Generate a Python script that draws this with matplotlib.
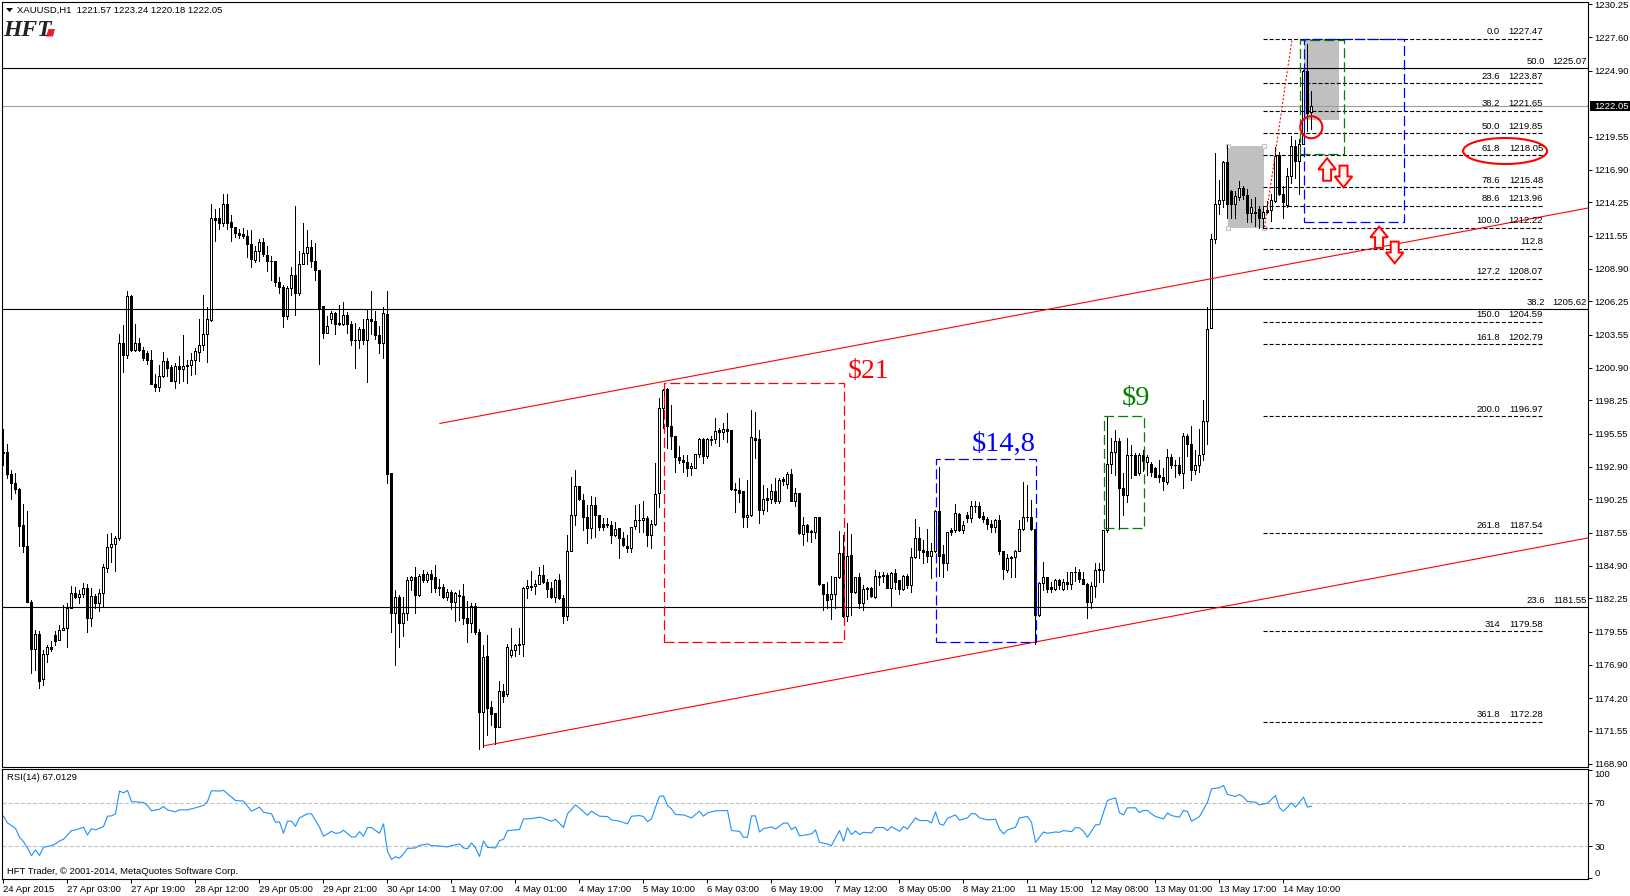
import numpy as np
import matplotlib
matplotlib.use("Agg")
import matplotlib.pyplot as plt
from matplotlib.patches import Rectangle, Ellipse, Polygon

W, H = 1631, 896
SANS = ["Liberation Sans", "DejaVu Sans"]
SERIF = ["Liberation Serif", "DejaVu Serif"]
plt.rcParams["font.family"] = SANS
plt.rcParams["lines.scale_dashes"] = False
LABEL = 6.8

# H1 candles
opens = [
    1194.1,1194.1,1192.3,1191.6,1191.1,1188.2,1186.5,1182.0,1178.2,1179.4,
    1175.7,1177.8,1178.3,1179.3,1178.9,1179.7,1179.9,1181.5,1182.7,1182.35,
    1182.6,1183.1,1180.7,1182.45,1181.85,1182.65,1184.7,1186.4,1186.65,1187.1,
    1202.9,1201.95,1206.7,1202.3,1202.85,1202.3,1202.1,1201.55,1199.6,1199.35,
    1200.25,1201.4,1200.95,1199.85,1201.0,1200.75,1201.1,1201.15,1201.5,1202.2,
    1202.75,1203.6,1204.75,1212.97,1212.95,1212.6,1214.1,1212.65,1212.25,1211.75,
    1211.7,1211.5,1210.85,1209.6,1210.3,1211.05,1210.0,1209.55,1209.5,1207.8,
    1207.45,1205.05,1207.3,1208.35,1206.9,1209.3,1210.15,1210.65,1209.55,1208.75,
    1205.85,1203.7,1204.8,1205.3,1204.5,1204.45,1205.15,1204.4,1203.15,1203.1,
    1204.0,1203.1,1204.8,1204.7,1203.5,1202.85,1205.2,1192.35,1181.1,1182.35,
    1180.3,1181.1,1183.75,1183.95,1182.5,1184.2,1183.7,1184.2,1183.95,1183.15,
    1183.15,1182.35,1182.75,1182.0,1182.55,1182.45,1180.7,1180.3,1181.65,1179.55,
    1173.1,1177.6,1173.5,1173.0,1171.85,1174.8,1174.5,1177.65,1178.05,1178.55,
    1178.55,1183.1,1183.25,1183.25,1183.4,1184.15,1183.55,1183.12,1182.4,1183.75,
    1182.3,1180.85,1186.1,1189.0,1191.3,1190.2,1188.8,1187.95,1189.8,1189.0,
    1188.25,1188.25,1188.2,1187.4,1187.95,1187.1,1186.5,1186.35,1188.1,1188.6,
    1188.55,1188.75,1187.4,1188.3,1190.75,1197.6,1199.2,1196.2,1195.35,1193.7,
    1193.45,1193.3,1192.75,1192.8,1193.95,1195.15,1193.75,1195.1,1195.15,1195.85,
    1195.7,1195.9,1195.85,1191.1,1191.0,1190.9,1188.8,1189.0,1195.25,1195.15,
    1189.4,1190.35,1190.25,1190.95,1190.15,1191.9,1191.5,1192.3,1190.1,1190.8,
    1187.45,1188.15,1187.7,1187.6,1188.85,1183.45,1182.6,1182.2,1182.6,1183.95,
    1185.9,1180.85,1185.75,1182.75,1183.95,1181.85,1183.1,1183.1,1182.4,1184.1,
    1184.15,1184.15,1183.1,1184.3,1183.7,1183.0,1184.1,1183.3,1185.6,1187.15,
    1186.15,1186.05,1185.7,1186.1,1189.35,1185.8,1185.15,1187.8,1187.8,1189.1,
    1187.8,1189.0,1188.75,1189.75,1189.75,1188.9,1188.65,1188.25,1188.0,1188.55,
    1186.1,1184.55,1185.55,1185.6,1186.1,1187.85,1188.85,1188.85,1187.85,1180.9,
    1183.5,1184.0,1183.15,1183.05,1183.7,1183.0,1183.6,1183.45,1184.4,1184.35,
    1183.85,1183.45,1182.0,1183.25,1184.65,1184.55,1187.75,1193.15,1194.05,1195.0,
    1191.2,1190.6,1193.85,1193.85,1192.4,1193.85,1193.25,1193.1,1192.75,1192.25,
    1192.1,1191.65,1193.65,1193.05,1193.05,1192.4,1195.4,1194.7,1192.65,1193.05,
    1193.9,1196.6,1204.1,1211.27,1214.1,1214.45,1217.55,1215.2,1214.15,1214.7,
    1215.4,1214.85,1213.4,1213.45,1213.75,1212.95,1213.6,1213.6,1214.4,1218.05,
    1214.95,1214.0,1216.4,1218.8,1217.6,1219.0,1224.9,1221.57,
]
highs = [
    1195.9,1194.75,1192.65,1192.4,1191.2,1189.9,1189.3,1182.1,1179.7,1179.6,
    1178.1,1178.5,1178.85,1179.6,1180.1,1181.7,1181.85,1183.25,1183.15,1182.95,
    1183.5,1183.4,1183.1,1182.6,1183.0,1185.0,1187.45,1187.5,1187.3,1203.65,
    1204.35,1207.1,1206.75,1204.45,1203.3,1202.55,1202.25,1202.3,1200.4,1201.1,
    1202.15,1201.7,1201.1,1201.3,1201.8,1203.5,1201.5,1202.1,1202.5,1204.85,
    1206.8,1205.8,1214.1,1213.7,1213.8,1214.9,1214.9,1213.2,1212.25,1212.1,
    1212.15,1212.0,1212.0,1210.75,1211.3,1211.35,1210.75,1209.9,1209.55,1208.2,
    1207.55,1207.5,1209.05,1213.95,1210.3,1212.55,1212.0,1211.2,1210.95,1208.8,
    1205.9,1205.05,1205.5,1205.4,1205.95,1206.2,1205.4,1204.65,1204.5,1204.2,
    1204.85,1205.6,1207.1,1205.45,1204.25,1205.8,1207.1,1192.4,1182.95,1182.55,
    1182.4,1184.0,1184.1,1184.75,1184.2,1184.55,1184.4,1184.55,1184.95,1183.8,
    1183.45,1183.05,1182.9,1182.8,1182.95,1183.4,1182.05,1181.9,1181.9,1179.8,
    1178.5,1179.3,1174.0,1173.0,1175.55,1175.3,1178.55,1179.9,1178.6,1179.9,
    1183.2,1183.7,1184.45,1183.7,1184.75,1184.95,1183.8,1183.6,1183.85,1184.25,
    1182.55,1187.4,1192.1,1192.65,1191.3,1190.7,1189.8,1190.5,1190.45,1189.0,
    1188.75,1188.75,1188.5,1188.4,1187.95,1187.65,1187.4,1188.05,1189.8,1189.85,
    1190.15,1188.9,1188.6,1193.2,1198.45,1199.2,1199.25,1197.9,1195.35,1194.55,
    1193.85,1193.85,1193.2,1193.95,1195.25,1195.25,1195.25,1195.35,1196.85,1196.0,
    1196.4,1197.2,1195.85,1191.6,1192.0,1190.9,1191.8,1197.5,1197.3,1195.85,
    1191.45,1191.15,1191.5,1192.0,1192.0,1192.1,1192.5,1192.7,1191.15,1190.8,
    1188.85,1188.25,1187.8,1188.85,1188.85,1183.45,1183.6,1184.1,1184.0,1187.7,
    1187.4,1188.35,1187.45,1184.0,1184.3,1183.3,1183.2,1183.2,1184.55,1184.4,
    1184.35,1184.3,1184.4,1184.6,1183.75,1184.15,1184.2,1186.35,1188.7,1188.05,
    1186.95,1187.85,1186.7,1189.4,1192.85,1186.55,1187.65,1187.95,1189.85,1189.15,
    1188.5,1189.25,1190.15,1190.15,1190.05,1189.25,1188.85,1188.6,1188.65,1189.0,
    1186.1,1185.8,1185.65,1186.2,1188.6,1191.65,1191.45,1190.2,1187.85,1183.6,
    1185.2,1184.0,1183.6,1183.85,1183.85,1183.85,1184.4,1184.4,1184.75,1184.65,
    1184.35,1183.5,1183.6,1185.15,1185.15,1187.8,1196.95,1195.2,1195.85,1195.2,
    1192.4,1195.25,1194.65,1194.0,1194.0,1194.25,1193.85,1193.3,1192.85,1193.4,
    1192.75,1194.35,1193.9,1193.4,1193.65,1195.65,1195.5,1196.15,1194.25,1195.9,
    1198.3,1205.8,1211.7,1218.25,1216.05,1217.6,1218.85,1215.25,1215.15,1216.0,
    1215.6,1215.3,1214.5,1214.65,1213.95,1213.95,1214.4,1214.9,1218.7,1218.3,
    1215.6,1217.05,1219.65,1219.3,1219.35,1224.95,1227.05,1223.24,
]
lows = [
    1193.0,1192.0,1190.3,1190.8,1186.5,1186.0,1182.0,1176.2,1176.5,1175.0,
    1175.25,1177.1,1178.0,1178.5,1178.9,1179.7,1178.35,1181.45,1182.25,1181.85,
    1182.4,1179.55,1180.0,1181.45,1181.25,1181.65,1184.4,1185.2,1184.5,1187.0,
    1200.55,1201.65,1202.25,1202.25,1202.25,1201.55,1201.2,1199.6,1199.0,1199.05,
    1200.15,1200.2,1199.85,1199.25,1199.65,1199.8,1199.65,1200.3,1200.4,1201.4,
    1202.3,1201.35,1204.65,1211.1,1212.1,1212.35,1212.1,1211.1,1211.45,1211.35,
    1211.35,1209.8,1209.0,1209.4,1209.5,1209.95,1208.7,1208.0,1207.5,1206.95,
    1204.2,1204.8,1206.75,1205.15,1206.75,1209.3,1209.25,1209.05,1207.95,1201.2,
    1203.3,1203.7,1204.5,1203.6,1204.35,1204.35,1203.7,1202.7,1200.9,1202.5,
    1202.8,1199.75,1203.6,1203.25,1202.1,1201.65,1191.55,1179.55,1176.9,1178.35,
    1179.25,1180.5,1182.95,1181.1,1182.45,1183.6,1183.6,1182.8,1182.8,1182.5,
    1182.3,1182.1,1181.4,1180.45,1180.5,1180.15,1178.7,1179.5,1179.35,1170.05,
    1170.25,1171.2,1172.05,1170.5,1171.85,1173.9,1174.4,1177.55,1177.6,1177.8,
    1177.6,1182.3,1182.9,1182.6,1183.4,1183.5,1182.4,1182.25,1182.0,1182.2,
    1180.25,1180.5,1186.05,1188.2,1190.2,1187.8,1186.7,1187.1,1187.25,1187.8,
    1187.8,1188.0,1186.7,1187.3,1185.55,1186.5,1186.0,1186.0,1187.9,1187.65,
    1187.65,1186.45,1186.3,1188.2,1189.65,1196.0,1194.4,1194.35,1192.45,1193.2,
    1192.5,1192.15,1192.25,1192.75,1193.7,1193.2,1193.6,1194.65,1194.8,1194.55,
    1195.15,1194.9,1191.0,1189.2,1190.05,1188.0,1188.05,1188.95,1193.6,1188.35,
    1189.05,1189.3,1189.95,1189.95,1190.0,1191.4,1191.2,1190.1,1189.7,1187.45,
    1186.6,1186.85,1186.8,1187.1,1183.35,1181.3,1181.45,1180.6,1181.45,1183.9,
    1180.75,1180.4,1180.95,1182.65,1181.5,1181.3,1182.2,1182.4,1182.3,1183.35,
    1183.6,1183.1,1181.65,1183.05,1182.6,1182.95,1183.1,1182.8,1185.5,1185.5,
    1185.1,1185.2,1183.9,1186.0,1184.05,1184.0,1184.55,1187.4,1187.65,1187.7,
    1187.5,1188.4,1188.4,1189.25,1188.75,1188.45,1187.85,1187.65,1187.65,1185.8,
    1183.85,1184.4,1184.0,1184.0,1186.05,1187.8,1188.5,1187.8,1178.6,1180.85,
    1182.95,1182.8,1182.8,1182.95,1183.05,1182.95,1183.05,1183.0,1183.65,1183.6,
    1183.4,1180.65,1181.45,1182.4,1183.6,1183.55,1187.65,1192.4,1192.2,1187.9,
    1189.0,1190.05,1192.0,1192.2,1192.25,1192.55,1192.2,1192.15,1192.05,1191.65,
    1191.05,1191.5,1192.75,1192.1,1192.2,1191.15,1193.75,1191.8,1192.3,1192.45,
    1193.45,1194.7,1204.1,1211.0,1213.35,1213.9,1213.0,1213.0,1213.0,1214.45,
    1214.5,1212.65,1212.65,1212.35,1212.2,1212.2,1213.4,1212.75,1214.25,1214.85,
    1213.0,1213.9,1215.8,1216.25,1214.9,1219.0,1220.05,1220.18,
]
closes = [
    1194.0,1192.3,1191.6,1191.1,1188.1,1186.5,1182.0,1178.2,1179.4,1175.6,
    1177.75,1178.3,1178.2,1178.85,1179.7,1179.9,1181.5,1182.7,1182.35,1182.6,
    1183.1,1180.7,1182.45,1181.85,1182.65,1184.75,1186.4,1186.65,1187.15,1202.85,
    1201.9,1206.65,1202.3,1202.85,1202.3,1201.7,1201.55,1199.6,1199.35,1200.25,
    1201.45,1200.9,1199.85,1201.0,1200.75,1201.05,1201.0,1201.5,1202.25,1202.75,
    1203.6,1204.8,1212.97,1212.85,1212.6,1214.1,1212.6,1212.25,1211.8,1211.65,
    1211.5,1210.85,1209.65,1210.3,1211.05,1210.05,1209.55,1209.5,1207.8,1207.45,
    1205.05,1207.35,1208.35,1206.9,1209.3,1210.15,1210.65,1209.5,1208.75,1205.75,
    1203.7,1204.3,1205.3,1204.45,1204.4,1205.15,1204.4,1203.1,1203.1,1204.0,
    1203.1,1204.8,1204.7,1203.5,1202.85,1205.3,1192.3,1181.1,1182.35,1180.25,
    1181.1,1183.75,1183.95,1182.5,1184.05,1183.7,1184.2,1183.8,1183.1,1183.1,
    1182.35,1182.75,1182.0,1182.65,1182.45,1180.65,1180.3,1181.65,1179.5,1173.1,
    1177.5,1173.4,1172.95,1171.85,1174.75,1174.4,1178.3,1178.05,1178.5,1178.5,
    1183.1,1183.25,1183.15,1183.4,1184.15,1183.55,1183.05,1182.4,1183.7,1182.25,
    1180.85,1186.1,1189.0,1191.3,1190.3,1188.8,1187.95,1189.8,1189.0,1188.0,
    1188.05,1188.2,1187.4,1187.9,1187.1,1186.55,1186.35,1188.0,1188.6,1188.55,
    1188.75,1187.4,1188.3,1190.7,1197.6,1199.1,1196.2,1195.35,1193.7,1193.4,
    1193.3,1192.8,1192.95,1193.95,1195.1,1193.75,1195.1,1195.05,1195.8,1195.7,
    1195.9,1195.8,1191.1,1191.0,1190.75,1188.8,1189.0,1195.3,1195.05,1189.4,
    1190.3,1190.2,1190.95,1190.15,1191.8,1191.75,1192.3,1190.1,1190.8,1187.5,
    1188.15,1187.6,1187.6,1188.85,1183.4,1182.6,1182.1,1182.6,1183.95,1185.95,
    1180.8,1185.7,1182.75,1184.0,1181.85,1183.05,1183.0,1182.45,1184.05,1184.0,
    1184.1,1183.1,1184.3,1183.6,1183.0,1184.1,1183.3,1185.6,1187.15,1186.15,
    1186.0,1185.7,1186.1,1189.3,1185.65,1185.15,1187.6,1187.6,1189.15,1187.8,
    1188.2,1188.75,1189.75,1189.7,1188.8,1188.65,1188.25,1188.0,1188.55,1186.05,
    1184.6,1185.5,1185.6,1186.1,1187.85,1188.8,1188.8,1187.85,1180.9,1183.5,
    1184.0,1183.0,1183.0,1183.7,1183.35,1183.6,1183.45,1184.35,1184.35,1183.8,
    1183.45,1182.0,1183.25,1184.55,1184.55,1187.75,1193.15,1194.05,1195.0,1191.15,
    1190.6,1193.85,1193.8,1192.25,1193.85,1193.35,1193.7,1192.5,1192.1,1192.05,
    1191.7,1193.65,1193.0,1193.0,1192.4,1195.35,1194.7,1192.65,1193.05,1193.85,
    1196.6,1204.05,1211.27,1214.1,1214.45,1217.55,1214.15,1214.15,1214.75,1215.45,
    1214.85,1213.4,1213.9,1213.4,1212.95,1213.5,1213.5,1214.45,1218.0,1214.9,
    1214.3,1216.4,1218.8,1217.6,1219.0,1224.9,1221.45,1222.05,
]

# RSI(14) vertices: bar number and value
rsi_bars = [
    0,1,2,3,4,5,6,7,8,9,10,12,13,14,15,17,18,20,21,22,23,25,26,27,28,29,30,31,32,34,
    35,36,37,39,40,41,43,44,46,48,50,51,52,54,55,57,58,60,62,64,65,67,68,69,70,71,72,
    73,74,76,77,78,79,80,82,83,84,85,87,88,89,90,91,92,94,95,96,97,98,99,100,101,103,
    104,106,107,109,111,112,114,115,116,117,118,119,120,121,123,124,125,126,127,129,
    130,132,134,135,137,138,140,141,143,144,146,147,149,151,152,154,156,157,159,160,
    161,162,163,164,165,166,167,168,170,172,174,175,176,178,181,182,184,185,186,187,
    188,189,190,192,193,195,196,197,198,199,201,202,203,204,206,207,208,209,210,211,
    212,213,214,215,217,218,220,221,222,224,225,226,228,229,231,232,233,234,235,236,
    238,239,241,242,243,244,246,248,249,250,251,253,254,256,257,258,260,261,263,264,
    265,267,268,269,270,271,273,274,276,278,279,280,281,283,284,285,286,287,288,290,
    291,292,294,295,296,297,299,301,302,304,305,306,308,309,310,311,313,314,316,318,
    319,320,322,323,325,326,327,
]
rsi_vals = [
    57.6,51.4,48.9,46.4,38.1,34.0,28.2,21.0,26.3,21.3,28.8,30.4,31.9,34.7,36.2,44.3,44.9,47.4,40.2,46.1,44.9,48.0,57.6,57.9,59.8,80.9,79.3,81.5,71.2,70.6,
    70.3,67.5,62.6,64.1,66.6,63.5,61.6,63.5,63.5,65.4,67.5,71.2,81.2,80.9,81.5,75.3,72.2,71.6,62.3,66.0,61.3,59.8,52.0,52.3,41.8,53.0,53.0,
    48.3,56.1,59.8,59.8,53.6,47.4,39.0,43.6,41.8,42.1,44.6,38.4,38.4,43.3,39.0,47.1,47.1,41.8,50.5,25.1,17.6,20.1,18.8,22.6,27.8,28.2,
    30.6,31.9,30.4,30.0,29.1,30.4,31.9,28.2,27.5,32.8,28.2,20.4,34.7,28.8,28.2,35.0,36.2,44.3,44.6,45.2,
    55.1,55.4,56.7,55.7,53.0,54.8,47.1,59.8,68.1,65.0,58.5,62.3,57.6,57.3,54.2,53.0,50.5,57.6,58.2,57.3,
    52.6,55.1,66.0,75.9,76.5,67.5,64.4,59.2,58.8,56.1,62.3,57.6,60.7,62.6,62.9,44.3,43.6,38.1,38.1,57.9,
    57.9,43.0,46.1,47.7,45.8,51.1,51.4,45.2,47.7,39.3,40.6,41.2,44.9,33.4,31.9,30.4,37.5,44.3,34.4,46.8,
    40.6,44.0,40.6,42.7,42.1,47.1,47.1,44.3,48.0,43.6,48.0,45.8,56.1,53.6,53.6,51.4,61.6,50.5,49.3,55.7,
    58.8,53.9,56.1,60.1,59.8,56.1,54.2,54.8,45.8,41.2,44.9,47.4,56.1,57.3,52.0,33.4,43.0,41.8,43.0,42.7,
    44.3,43.3,47.1,46.8,43.6,38.1,49.5,49.9,72.2,74.7,60.7,58.8,65.4,65.4,61.0,62.9,62.9,59.8,57.3,55.1,
    60.7,58.2,56.7,62.9,62.0,53.0,57.3,70.6,83.0,84.0,86.1,77.7,75.9,77.7,75.3,71.2,70.6,68.1,69.7,76.8,
    65.4,62.3,70.0,66.0,75.3,66.0,66.9,
]

# Fibonacci levels
fib_pct = ["0.0","23.6","38.2","50.0","61.8","78.6","88.6","100.0","112.8","127.2",
           "150.0","161.8","200.0","261.8","314","361.8"]
fib_price = [1227.47,1223.87,1221.65,1219.85,1218.05,1215.48,1213.96,1212.22,1210.5,1208.07,
             1204.59,1202.79,1196.97,1187.54,1179.58,1172.28]
# solid levels of the larger retracement
ret_pct = ["50.0","38.2","23.6"]
ret_price = [1225.07,1205.62,1181.55]
last_price = 1222.05

price_ticks = [1230.25,1227.60,1224.90,1219.55,1216.90,1214.25,1211.55,1208.90,1206.25,1203.55,
               1200.90,1198.25,1195.55,1192.90,1190.25,1187.55,1184.90,1182.25,1179.55,1176.90,
               1174.20,1171.55,1168.90]
time_labels = ["24 Apr 2015","27 Apr 03:00","27 Apr 19:00","28 Apr 12:00","29 Apr 05:00","29 Apr 21:00",
               "30 Apr 14:00","1 May 07:00","4 May 01:00","4 May 17:00","5 May 10:00","6 May 03:00",
               "6 May 19:00","7 May 12:00","8 May 05:00","8 May 21:00","11 May 15:00","12 May 08:00",
               "13 May 01:00","13 May 17:00","14 May 10:00"]
time_ticks = [16 * k for k in range(len(time_labels))]
rsi_ticks = [100, 70, 30, 0]


fig = plt.figure(figsize=(W / 100, H / 100), dpi=100)
ax = fig.add_axes([2.5 / W, 1 - 766.5 / H, 1586 / W, 764 / H])
rx = fig.add_axes([2.5 / W, 1 - 878.5 / H, 1586 / W, 110 / H])
BAR_LIM = (-0.25, 396.25)

ax.set_xlim(*BAR_LIM)
ax.set_ylim(1168.67, 1230.40)
rx.set_xlim(*BAR_LIM)
rx.set_ylim(-0.1, 101.8)

# Candles
bars = np.arange(len(opens))
o, hi, lo, c = map(np.array, (opens, highs, lows, closes))
ax.vlines(bars, lo, hi, color="black", lw=0.7, zorder=2, antialiased=False)
up = c >= o
ax.bar(bars[up], (c - o)[up], bottom=o[up], width=0.5, facecolor="white", edgecolor="black",
       linewidth=0.7, zorder=2.1, antialiased=False)
ax.bar(bars[~up], (o - c)[~up], bottom=c[~up], width=0.5, facecolor="black", edgecolor="black",
       linewidth=0.7, zorder=2.1, antialiased=False)

# Grey rectangles behind the candles
for x0, x1, p0, p1 in [(306.1, 315.05, 1212.22, 1218.77), (325.1, 333.9, 1220.87, 1227.47)]:
    ax.add_patch(Rectangle((x0, p0), x1 - x0, p1 - p0, facecolor="#c0c0c0", edgecolor="none", zorder=1))
ax.plot([306.1, 315.05, 306.1, 315.05], [1212.22, 1212.22, 1218.77, 1218.77], ls="none", marker="s", ms=3,
        mfc="white", mec="#c0c0c0", mew=0.8, zorder=1.5)

# Horizontal levels
for p in ret_price:
    ax.axhline(p, color="black", lw=0.8, zorder=3)
ax.axhline(last_price, color="#a0a0a0", lw=0.8, zorder=1.2)
ax.hlines(fib_price, 315, 384.9, color="black", lw=0.8, linestyles=(0, (2.9, 1.5)), zorder=3)

# Channel lines
ax.plot([109.1, 396.25], [1196.39, 1213.8], color="red", lw=0.8, zorder=3)
ax.plot([120.1, 396.3], [1170.34, 1187.15], color="red", lw=0.8, zorder=3)
ax.plot([315.25, 322.15], [1212.25, 1227.47], color="red", lw=0.8, ls=(0, (1.4, 1.4)), zorder=3)

# Dashed measure boxes
dash = (0, (7.2, 2.9))
for x0, x1, p0, p1, col in [(165.2, 210.1, 1178.75, 1199.67, "red"),
                            (233.1, 258.1, 1178.75, 1193.53, "#0000ff"),
                            (275.1, 285.2, 1187.96, 1197.03, "#008000"),
                            (324.1, 335.1, 1218.15, 1227.33, "#008000"),
                            (325.2, 350.1, 1212.7, 1227.47, "#0000ff")]:
    ax.add_patch(Rectangle((x0, p0), x1 - x0, p1 - p0, fill=False, edgecolor=col, lw=0.9, ls=dash, zorder=3.2))

ax.text(211.0, 1200.1, "$21", color="red", fontsize=20, family=SERIF, va="baseline", zorder=5)
ax.text(242.0, 1194.2, "$14,8", color="#0000ff", fontsize=20.5, family=SERIF, va="baseline", zorder=5)
ax.text(279.5, 1197.84, "$9", color="#008000", fontsize=20.5, family=SERIF, va="baseline", zorder=5)

# Circle and ellipse
ax.add_patch(Ellipse((326.95, 1220.32), 5.5, 1.78, fill=False, edgecolor="red", lw=1.5, zorder=4))
ax.add_patch(Ellipse((375.4, 1218.4), 21, 2.1, fill=False, edgecolor="red", lw=1.5, zorder=4))


def block_arrow(x, tip, base):
    neck = tip + (base - tip) * 0.5
    pts = [(x, tip), (x + 2.2, neck), (x + 1, neck), (x + 1, base), (x - 1, base), (x - 1, neck), (x - 2.2, neck)]
    ax.add_patch(Polygon(pts, closed=True, facecolor="#fff4f4", edgecolor="red", lw=1.4, zorder=4))


block_arrow(330.9, 1217.82, 1216.0)
block_arrow(335.0, 1215.47, 1217.22)
block_arrow(343.9, 1212.29, 1210.57)
block_arrow(347.8, 1209.33, 1211.08)


def level_text(s, x, p):
    ax.annotate(s, (x, p), xytext=(0, 1.8), textcoords="offset points", ha="right", va="bottom",
                fontsize=LABEL, zorder=5)


# Level labels
for pct, p in zip(fib_pct, fib_price):
    if pct == "112.8":
        level_text(pct, 384.9, p)
        continue
    level_text(pct, 374.1, p)
    level_text(f"{p:.2f}", 384.9, p)
for pct, p in zip(ret_pct, ret_price):
    level_text(pct, 385.4, p)
    level_text(f"{p:.2f}", 395.9, p)

# RSI
rx.axhline(70, color="#c0c0c0", lw=0.8, ls=(0, (2.9, 1.5)))
rx.axhline(30, color="#c0c0c0", lw=0.8, ls=(0, (2.9, 1.5)))
rx.plot(rsi_bars, rsi_vals, color="#1e90ff", lw=0.8)

# Axes
ax.set_xticks([])
ax.yaxis.tick_right()
ax.set_yticks(price_ticks)
ax.set_yticklabels([f"{t:.2f}" for t in price_ticks])
ax.tick_params(axis="y", length=3, width=0.7, pad=1.5, labelsize=LABEL)

rx.yaxis.tick_right()
rx.set_yticks(rsi_ticks)
rx.set_yticklabels([str(t) for t in rsi_ticks])
rx.tick_params(axis="y", length=3, width=0.7, pad=1.5, labelsize=LABEL)
rx.get_yticklabels()[0].set_va("top")
rx.get_yticklabels()[3].set_va("bottom")

rx.set_xticks(time_ticks)
rx.set_xticklabels(time_labels, ha="left")
rx.tick_params(axis="x", length=3, width=0.7, pad=1.5, labelsize=LABEL)

for a in (ax, rx):
    for s in a.spines.values():
        s.set_linewidth(0.8)

# Chrome drawn in pixel coordinates
ov = fig.add_axes([0, 0, 1, 1], facecolor="none")
ov.set_xlim(0, W)
ov.set_ylim(H, 0)
ov.axis("off")
ov.add_patch(Polygon([(6, 8), (13, 8), (9.5, 12)], closed=True, facecolor="black", edgecolor="none"))
ov.text(17.5, 10.8, "XAUUSD,H1  1221.57 1223.24 1220.18 1222.05", fontsize=LABEL, va="center", ha="left")
ov.text(3, 36.5, "HFT", fontsize=17, family=SERIF, style="italic", weight="bold", color="#222222", va="baseline")
ov.add_patch(Polygon([(46, 36.5), (48.5, 29), (55, 29), (53, 36.5)], closed=True, facecolor="#e8202a", edgecolor="none"))
ov.text(7, 778, "RSI(14) 67.0129", fontsize=LABEL, va="center", ha="left")
ov.text(7, 871, "HFT Trader, \u00a9 2001-2014, MetaQuotes Software Corp.", fontsize=LABEL, va="center", ha="left")
ov.add_patch(Rectangle((1590, 101), 41, 10.5, facecolor="black", edgecolor="none"))
ov.text(1594, 106.3, "1222.05", color="white", fontsize=LABEL, va="center", ha="left")

fig.savefig("out.png", dpi=100)
